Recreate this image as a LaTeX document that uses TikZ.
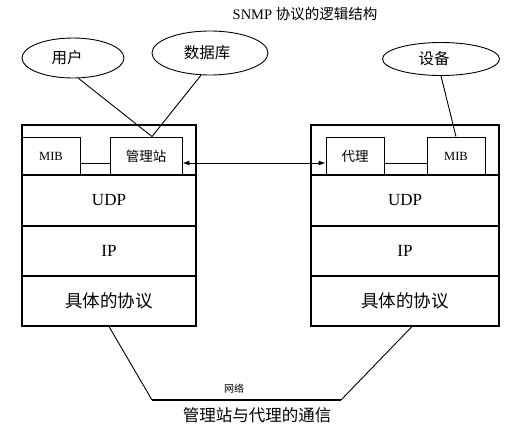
\documentclass[tikz,border=0pt]{standalone}
\usepackage{fontspec}
\setmainfont{Liberation Serif}
\newfontfamily\cjk{Noto Sans CJK SC}
\usetikzlibrary{shapes.geometric,arrows.meta}

\tikzset{
  cell/.style={draw,line width=0.9pt,minimum height=38,inner sep=0pt,font=\fontsize{12.5}{14}\selectfont},
  layer/.style={draw,line width=1.1pt,minimum height=50,inner sep=0pt,font=\fontsize{17}{19}\selectfont},
  bubble/.style={draw,ellipse,line width=0.9pt,inner sep=0pt,font=\cjk\fontsize{15.5}{17}\selectfont},
  wire/.style={line width=0.9pt}
}

\begin{document}
\begin{tikzpicture}[x=1pt,y=-1pt]
  \useasboundingbox (0,0) rectangle (510,431);
  \node[font=\fontsize{14.5}{16}\selectfont] (title) at (305,14) {SNMP {\cjk 协议的逻辑结构}};
  % Manager
  \begin{scope}
    \node[layer,minimum width=174] (topL) at (109,150) {};
    \node[layer,minimum width=174] (udpL) at (109,200.5) {UDP};
    \node[layer,minimum width=174] (ipL) at (109,251) {IP};
    \node[layer,minimum width=174,font=\cjk\fontsize{17.5}{19}\selectfont] (protoL) at (109,301) {具体的协议};
    \node[cell,minimum width=58] (mibL) at (51,156) {MIB};
    \node[cell,minimum width=72,font=\cjk\fontsize{13.5}{15}\selectfont] (mgr) at (146,156) {管理站};
    \draw[wire] ([yshift=-7pt]mibL.east) -- ([yshift=-7pt]mgr.west);
    \node[bubble,minimum width=102,minimum height=40] (user) at (73,58) {用户\hspace*{12pt}};
    \node[bubble,minimum width=116,minimum height=44] (db) at (210,53) {数据库\hspace*{6pt}};
    \draw[wire] (user.-75) -- ([xshift=6pt]mgr.north);
    \draw[wire] (db.-112) -- ([xshift=6pt]mgr.north);
  \end{scope}
  % Agent
  \begin{scope}
    \node[layer,minimum width=188] (topR) at (405,150) {};
    \node[layer,minimum width=188] (udpR) at (405,200.5) {UDP};
    \node[layer,minimum width=188] (ipR) at (405,251) {IP};
    \node[layer,minimum width=188,font=\cjk\fontsize{17.5}{19}\selectfont] (protoR) at (405,301) {具体的协议};
    \node[cell,minimum width=58,font=\cjk\fontsize{13.5}{15}\selectfont] (agent) at (355,156) {代理};
    \node[cell,minimum width=58] (mibR) at (456,156) {MIB};
    \draw[wire] ([yshift=-7pt]agent.east) -- ([yshift=-7pt]mibR.west);
    \node[bubble,minimum width=117,minimum height=33] (dev) at (441,59) {设备\hspace*{14pt}};
    \draw[wire] (dev.south) -- (mibR.north);
  \end{scope}
  \draw[wire,{Latex[length=7pt,width=5pt]}-{Latex[length=7pt,width=5pt]}] ([yshift=-7pt]mgr.east) -- ([yshift=-7pt]agent.west);
  % Network
  \coordinate (netL) at (152,400);
  \coordinate (netR) at (341,400);
  \draw[wire] (protoL.south) -- (netL);
  \draw[line width=2pt] (netL) -- (netR);
  \draw[wire] (netR) -- ([xshift=7pt]protoR.south);
  \node[font=\cjk\fontsize{10}{12}\selectfont] (net) at (234,389) {网络};
  \node[font=\cjk\fontsize{16.5}{18}\selectfont] (caption) at (257,415) {管理站与代理的通信};
\end{tikzpicture}
\end{document}
